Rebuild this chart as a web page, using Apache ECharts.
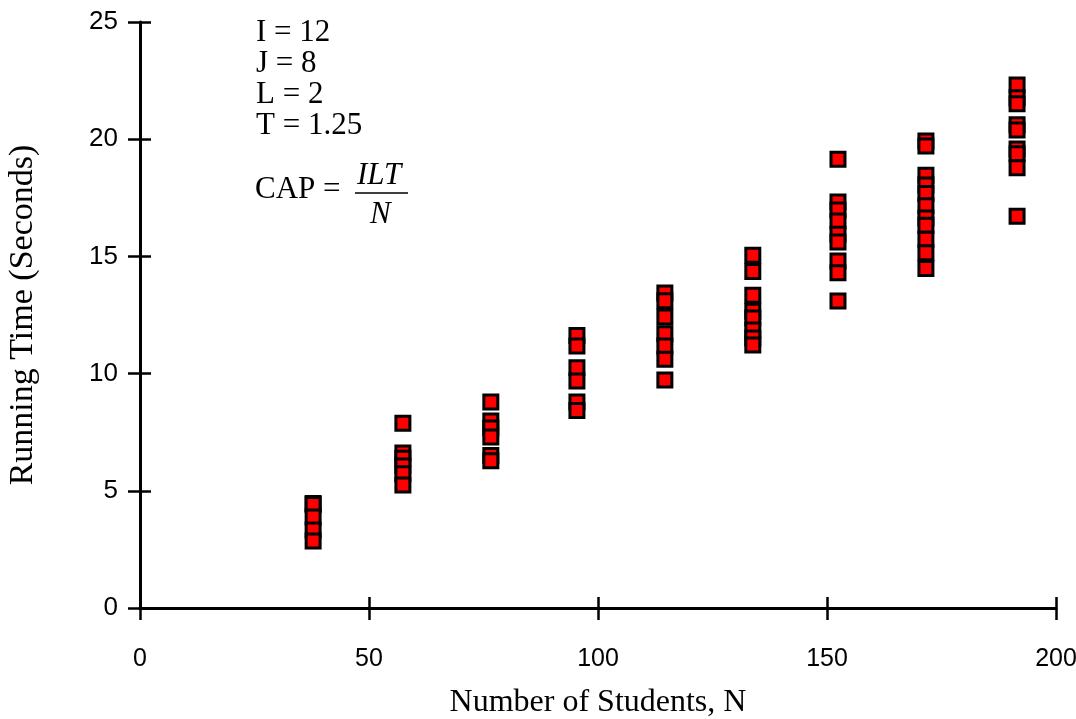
<!DOCTYPE html>
<html>
<head>
<meta charset="utf-8">
<script src="https://cdn.jsdelivr.net/npm/echarts@6/dist/echarts.min.js"></script>
<style>html,body{margin:0;padding:0;background:#fff}#c{width:1076px;height:719px}</style>
</head>
<body>
<div id="c"></div>
<script>
// Number of students (cluster positions)
var studentsN = [37.8, 57.4, 76.6, 95.4, 114.6, 133.8, 152.4, 171.6, 191.5];
// Running times per cluster (seconds)
var times1 = [4.46, 4.42, 3.88, 3.33, 2.86];
var times2 = [7.88, 6.61, 6.39, 6.06, 5.73, 5.25];
var times3 = [8.79, 7.98, 7.68, 7.30, 6.51, 6.28];
var times4 = [11.63, 11.18, 10.25, 9.68, 8.79, 8.43];
var times5 = [13.44, 13.11, 12.41, 11.70, 11.18, 10.61, 9.73];
var times6 = [15.05, 14.36, 13.34, 12.66, 12.37, 11.86, 11.52, 11.22];
var times7 = [19.14, 17.32, 16.98, 16.51, 15.94, 15.61, 14.80, 14.30, 13.10];
var times8 = [19.92, 19.71, 18.46, 18.05, 17.68, 17.16, 16.64, 16.33, 15.73, 15.16, 14.48];
var times9 = [22.31, 21.77, 21.51, 20.62, 20.39, 19.58, 19.38, 18.78, 16.71];
var xTicks = [0, 50, 100, 150, 200];
var yTicks = [0, 5, 10, 15, 20, 25];
var paramLines = ['I = 12', 'J = 8', 'L = 2', 'T = 1.25'];

var groups = [times1, times2, times3, times4, times5, times6, times7, times8, times9];
var points = [];
groups.forEach(function (g, i) {
  g.forEach(function (v) { points.push([studentsN[i], v]); });
});

var chart = echarts.init(document.getElementById('c'), null, {renderer: 'canvas'});
var serif = '"Liberation Serif", "Times New Roman", serif';
var sans = '"Liberation Sans", Arial, sans-serif';
var axisLine = {show: true, lineStyle: {color: '#000', width: 3}};
var graphics = [];
paramLines.forEach(function (t, i) {
  graphics.push({type: 'text', left: 256, top: 17 + i * 31,
    style: {text: t, font: '31px ' + serif, fill: '#000'}});
});
graphics.push({type: 'text', left: 255, top: 174, style: {text: 'CAP =', font: '31px ' + serif, fill: '#000'}});
graphics.push({type: 'text', left: 357, top: 160, style: {text: 'ILT', font: 'italic 31px ' + serif, fill: '#000'}});
graphics.push({type: 'line', shape: {x1: 355, y1: 193, x2: 408, y2: 193}, style: {stroke: '#000', lineWidth: 1.5}});
graphics.push({type: 'text', left: 370, top: 199, style: {text: 'N', font: 'italic 31px ' + serif, fill: '#000'}});

chart.setOption({
  animation: false,
  backgroundColor: '#fff',
  grid: {left: 140, right: 20, top: 22, bottom: 111, containLabel: false, outerBoundsMode: 'none'},
  xAxis: [{
    type: 'value', min: xTicks[0], max: xTicks[xTicks.length - 1], interval: 50,
    name: 'Number of Students, N', nameLocation: 'middle', nameGap: 79,
    nameTextStyle: {fontFamily: serif, fontSize: 32, color: '#000'},
    axisLine: axisLine,
    axisTick: {show: true, length: 12, lineStyle: {color: '#000', width: 2.5}},
    axisLabel: {fontFamily: sans, fontSize: 25, color: '#000', margin: 39},
    splitLine: {show: false}
  }, {
    type: 'value', min: 0, max: 200, interval: 50, position: 'bottom',
    axisLine: {show: false},
    axisTick: {show: true, inside: true, length: 11, lineStyle: {color: '#000', width: 2.5}},
    axisLabel: {show: false}, splitLine: {show: false}
  }],
  yAxis: [{
    type: 'value', min: yTicks[0], max: yTicks[yTicks.length - 1], interval: 5,
    name: 'Running Time (Seconds)', nameLocation: 'middle', nameGap: 100,
    nameTextStyle: {fontFamily: serif, fontSize: 34, color: '#000'},
    axisLine: axisLine,
    axisTick: {show: true, length: 12, lineStyle: {color: '#000', width: 2.5}},
    axisLabel: {fontFamily: sans, fontSize: 26, color: '#000', margin: 22},
    splitLine: {show: false}
  }, {
    type: 'value', min: 0, max: 25, interval: 5, position: 'left',
    axisLine: {show: false},
    axisTick: {show: true, inside: true, length: 11, lineStyle: {color: '#000', width: 2.5}},
    axisLabel: {show: false}, splitLine: {show: false}
  }],
  series: [{
    type: 'scatter', xAxisIndex: 0, yAxisIndex: 0,
    symbol: 'rect', symbolSize: 14,
    itemStyle: {color: '#ff0000', borderColor: '#000', borderWidth: 3, opacity: 1},
    data: points
  }],
  graphic: graphics
});
</script>
</body>
</html>
